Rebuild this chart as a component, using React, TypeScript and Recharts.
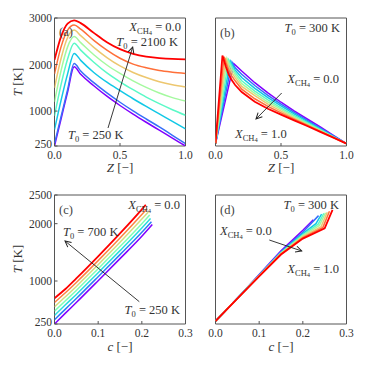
import React from 'react';
import { LineChart, Line, XAxis, YAxis, ReferenceArea } from 'recharts';

const FONT = '"Liberation Serif", "DejaVu Serif", serif';
const INK = '#333';
const SPINE = '#555';

// rainbow colormap, 8 and 7 samples
const colors8 = ['#8000ff', '#376ff9', '#12c8e6', '#5bf9c7', '#a4f99f', '#edc76f', '#ff6f39', '#ff0000'];
const colors7 = ['#8000ff', '#2b7ff6', '#2adddd', '#80ffb4', '#d4dd80', '#ff8042', '#ff0000'];

// (a) X_CH4 = 0.0, T0 = 250 ... 2100 K
const aT0 = [250, 300, 600, 900, 1200, 1500, 1800, 2100];
const aZ = [0, 0.05, 0.1, 0.15, 0.2, 0.3, 0.4, 0.5, 0.6, 0.7, 0.8, 0.9, 1.0];
const aT = [
  [250, 830, 1410, 1950, 1790, 1545, 1320, 1120, 935, 760, 590, 420, 250],
  [300, 880, 1460, 2020, 1860, 1610, 1390, 1190, 1005, 830, 660, 480, 300],
  [600, 1230, 1800, 2240, 2090, 1830, 1620, 1440, 1265, 1100, 940, 780, 620],
  [900, 1570, 2120, 2455, 2310, 2050, 1820, 1630, 1460, 1300, 1160, 1030, 910],
  [1200, 1870, 2380, 2600, 2470, 2210, 1990, 1810, 1650, 1510, 1390, 1290, 1215],
  [1500, 2130, 2580, 2740, 2620, 2370, 2150, 1970, 1830, 1720, 1630, 1565, 1520],
  [1800, 2380, 2740, 2850, 2760, 2520, 2310, 2135, 2010, 1930, 1870, 1835, 1810],
  [2100, 2600, 2880, 2950, 2890, 2680, 2480, 2330, 2230, 2170, 2140, 2120, 2110],
];

// (b) T0 = 300 K, X_CH4 = 0.0 ... 1.0
const bZ = [
  [0, 0.14, 0.2, 0.3, 0.4, 0.5, 0.6, 0.7, 0.8, 0.9, 1.0],
  [0, 0.126, 0.15, 0.2, 0.3, 0.4, 0.5, 0.6, 0.7, 0.8, 0.9, 1.0],
  [0, 0.113, 0.15, 0.2, 0.3, 0.4, 0.5, 0.6, 0.7, 0.8, 0.9, 1.0],
  [0, 0.1, 0.125, 0.15, 0.2, 0.3, 0.4, 0.5, 0.6, 0.7, 0.8, 0.9, 1.0],
  [0, 0.088, 0.1, 0.125, 0.15, 0.2, 0.3, 0.4, 0.5, 0.6, 0.7, 0.8, 0.9, 1.0],
  [0, 0.077, 0.1, 0.125, 0.15, 0.2, 0.3, 0.4, 0.5, 0.6, 0.7, 0.8, 0.9, 1.0],
  [0, 0.065, 0.08, 0.1, 0.125, 0.15, 0.2, 0.3, 0.4, 0.5, 0.6, 0.7, 0.8, 0.9, 1.0],
  [0, 0.053, 0.08, 0.1, 0.125, 0.15, 0.2, 0.3, 0.4, 0.5, 0.6, 0.7, 0.8, 0.9, 1.0],
];
const bT = [
  [300, 2020, 1860, 1610, 1390, 1190, 1005, 830, 660, 480, 300],
  [300, 2050, 1930, 1790, 1550, 1340, 1150, 970, 800, 635, 465, 300],
  [300, 2075, 1880, 1720, 1490, 1290, 1110, 940, 775, 615, 455, 300],
  [300, 2100, 1960, 1830, 1650, 1430, 1240, 1070, 905, 750, 600, 445, 300],
  [300, 2125, 2040, 1900, 1780, 1590, 1380, 1195, 1035, 875, 730, 585, 440, 300],
  [300, 2145, 1960, 1820, 1720, 1530, 1330, 1150, 1000, 850, 710, 575, 435, 300],
  [300, 2170, 2040, 1880, 1750, 1650, 1470, 1265, 1100, 960, 825, 695, 565, 432, 300],
  [300, 2195, 1950, 1790, 1660, 1560, 1410, 1200, 1050, 925, 800, 680, 555, 430, 300],
];

// (c) X_CH4 = 0.0, T0 = 250 ... 700 K
const cT0 = [250, 325, 400, 475, 550, 625, 700];
const cGrid = [0, 0.025, 0.05, 0.1, 0.15, 0.2];
const cEnd = [0.224, 0.222, 0.22, 0.218, 0.215, 0.212, 0.209];
const cT = [
  [250, 440, 625, 1005, 1390, 1780, 1985],
  [325, 510, 695, 1075, 1460, 1850, 2035],
  [400, 585, 765, 1145, 1530, 1925, 2090],
  [475, 655, 835, 1215, 1600, 2000, 2150],
  [550, 725, 905, 1285, 1675, 2080, 2205],
  [625, 795, 975, 1355, 1750, 2160, 2262],
  [700, 860, 1045, 1430, 1830, 2250, 2330],
];

// (d) T0 = 300 K, X_CH4 = 0.0 ... 1.0
const dC = [
  [0, 0.05, 0.1, 0.15, 0.2, 0.224],
  [0, 0.05, 0.1, 0.15, 0.2, 0.236],
  [0, 0.05, 0.1, 0.15, 0.2, 0.23, 0.243],
  [0, 0.05, 0.1, 0.15, 0.2, 0.235, 0.248],
  [0, 0.05, 0.1, 0.15, 0.2, 0.238, 0.252],
  [0, 0.05, 0.1, 0.15, 0.2, 0.242, 0.256],
  [0, 0.05, 0.1, 0.15, 0.2, 0.246, 0.261],
  [0, 0.05, 0.1, 0.15, 0.2, 0.25, 0.268],
];
const dT = [
  [300, 700, 1112, 1525, 1885, 2070],
  [300, 699, 1105, 1510, 1850, 2140],
  [300, 698, 1100, 1500, 1825, 2000, 2165],
  [300, 697, 1097, 1492, 1805, 1990, 2180],
  [300, 696, 1093, 1485, 1790, 1970, 2190],
  [300, 695, 1090, 1478, 1775, 1950, 2200],
  [300, 694, 1086, 1470, 1758, 1935, 2215],
  [300, 693, 1082, 1462, 1740, 1918, 2240],
];

const zTicks = [0, 0.5, 1.0];
const cTicks = [0, 0.1, 0.2, 0.3];
const tTicksTop = [250, 1000, 2000, 3000];
const tTicksBottom = [250, 1000, 2000, 2500];

type Pt = { x: number; y: number };
const pts = (xs: number[], ys: number[]): Pt[] => xs.map((x, i) => ({ x, y: ys[i] }));

const seriesA = aT.map((ys) => pts(aZ, ys));
const seriesB = bT.map((ys, i) => pts(bZ[i], ys));
const seriesC = cT.map((ys, i) => pts([...cGrid, cEnd[i]], ys));
const seriesD = dT.map((ys, i) => pts(dC[i], ys));

const TICK_FS = 11.5;

function XTick(props: any) {
  const { x, y, payload } = props;
  return (
    <text x={x} y={y} dy="0.71em" textAnchor="middle" fontSize={TICK_FS} fill={INK} fontFamily={FONT}>
      {Number(payload.value).toFixed(1)}
    </text>
  );
}

function YTick(props: any) {
  const { x, y, payload, lowest } = props;
  const shift = payload.value === lowest ? -2 : 0;
  return (
    <text x={x} y={y + shift} dy="0.35em" textAnchor="end" fontSize={TICK_FS} fill={INK} fontFamily={FONT}>
      {payload.value}
    </text>
  );
}

type PanelProps = {
  left: number;
  top: number;
  width: number;
  height: number;
  margin: { top: number; right: number; bottom: number; left: number };
  yWidth: number;
  xHeight: number;
  xDomain: [number, number];
  xTicks: number[];
  yDomain: [number, number];
  yTicks: number[];
  showY: boolean;
  series: Pt[][];
  colors: string[];
  curve: 'linear' | 'monotone';
};

function Panel(p: PanelProps) {
  return (
    <div style={{ position: 'absolute', left: p.left, top: p.top }}>
      <LineChart width={p.width} height={p.height} margin={p.margin}>
        <XAxis
          type="number"
          dataKey="x"
          domain={p.xDomain}
          ticks={p.xTicks}
          allowDataOverflow
          axisLine={false}
          tickSize={-3}
          tickMargin={8}
          height={p.xHeight}
          stroke={SPINE}
          tick={<XTick />}
        />
        <YAxis
          type="number"
          domain={p.yDomain}
          ticks={p.yTicks}
          allowDataOverflow
          axisLine={false}
          tickSize={-3}
          tickMargin={5.5}
          width={p.yWidth}
          stroke={SPINE}
          tick={p.showY ? <YTick lowest={p.yDomain[0]} /> : false}
        />
        {p.series.map((s, i) => (
          <Line
            key={i}
            data={s}
            dataKey="y"
            type={p.curve}
            stroke={p.colors[i]}
            strokeWidth={i === p.series.length - 1 ? 1.8 : 1.5}
            dot={false}
            activeDot={false}
            isAnimationActive={false}
          />
        ))}
        <ReferenceArea
          x1={p.xDomain[0]}
          x2={p.xDomain[1]}
          y1={p.yDomain[0]}
          y2={p.yDomain[1]}
          fill="none"
          stroke={SPINE}
          strokeWidth={1}
          ifOverflow="visible"
        />
      </LineChart>
    </div>
  );
}

const NB = '\u00a0';

function Xch4({ x, y, v, anchor }: { x: number; y: number; v: string; anchor: 'start' | 'end' }) {
  return (
    <text x={x} y={y} textAnchor={anchor} fontSize={12.5} fill={INK} fontFamily={FONT}>
      <tspan fontStyle="italic">X</tspan>
      <tspan fontSize={8.5} dy={2.5}>CH</tspan>
      <tspan fontSize={6.5} dy={1.5}>4</tspan>
      <tspan dy={-4}>{`${NB}=${NB}${v}`}</tspan>
    </text>
  );
}

function T0({ x, y, v, anchor }: { x: number; y: number; v: string; anchor: 'start' | 'end' }) {
  return (
    <text x={x} y={y} textAnchor={anchor} fontSize={12.5} fill={INK} fontFamily={FONT}>
      <tspan fontStyle="italic">T</tspan>
      <tspan fontSize={8.5} dy={2.5}>0</tspan>
      <tspan dy={-2.5}>{`${NB}=${NB}${v}${NB}K`}</tspan>
    </text>
  );
}

function Tag({ x, y, s }: { x: number; y: number; s: string }) {
  return (
    <text x={x} y={y} fontSize={12.5} fill="#444" fontFamily={FONT}>
      {s}
    </text>
  );
}

function Arrow({ x1, y1, x2, y2 }: { x1: number; y1: number; x2: number; y2: number }) {
  return <line x1={x1} y1={y1} x2={x2} y2={y2} stroke="#222" strokeWidth={0.9} markerEnd="url(#head)" />;
}

function AxisTitle({ x, y, v, unit, rotate }: { x: number; y: number; v: string; unit: string; rotate?: boolean }) {
  return (
    <text
      x={x}
      y={y}
      textAnchor="middle"
      fontSize={13}
      fill={INK}
      fontFamily={FONT}
      transform={rotate ? `rotate(-90 ${x} ${y})` : undefined}
    >
      <tspan fontStyle="italic">{v}</tspan>
      <tspan>{`${NB}[${unit}]`}</tspan>
    </text>
  );
}

export default function App() {
  return (
    <div style={{ position: 'absolute', left: 0, top: 0, width: 368, height: 368, background: '#fff' }}>
      <Panel
        left={0} top={0} width={200} height={180}
        margin={{ top: 18, right: 14.5, bottom: 0, left: 0 }}
        yWidth={54.5} xHeight={34}
        xDomain={[0, 1]} xTicks={zTicks} yDomain={[250, 3000]} yTicks={tTicksTop}
        showY series={seriesA} colors={colors8} curve="monotone"
      />
      <Panel
        left={190} top={0} width={178} height={180}
        margin={{ top: 18, right: 21.5, bottom: 0, left: 0 }}
        yWidth={25.5} xHeight={34}
        xDomain={[0, 1]} xTicks={zTicks} yDomain={[250, 3000]} yTicks={tTicksTop}
        showY={false} series={seriesB} colors={colors8} curve="linear"
      />
      <Panel
        left={0} top={180} width={200} height={188}
        margin={{ top: 15, right: 14.5, bottom: 0, left: 0 }}
        yWidth={54.5} xHeight={44}
        xDomain={[0, 0.3]} xTicks={cTicks} yDomain={[250, 2500]} yTicks={tTicksBottom}
        showY series={seriesC} colors={colors7} curve="monotone"
      />
      <Panel
        left={190} top={180} width={178} height={188}
        margin={{ top: 15, right: 21.5, bottom: 0, left: 0 }}
        yWidth={25.5} xHeight={44}
        xDomain={[0, 0.3]} xTicks={cTicks} yDomain={[250, 2500]} yTicks={tTicksBottom}
        showY={false} series={seriesD} colors={colors8} curve="linear"
      />
      <svg width={368} height={368} style={{ position: 'absolute', left: 0, top: 0, pointerEvents: 'none' }}>
        <defs>
          <marker id="head" markerWidth={8} markerHeight={8} refX={7} refY={4} orient="auto" markerUnits="userSpaceOnUse">
            <path d="M1,1 L7,4 L1,7" fill="none" stroke="#222" strokeWidth={1} />
          </marker>
        </defs>

        <AxisTitle x={22} y={82} v="T" unit="K" rotate />
        <AxisTitle x={22} y={259} v="T" unit="K" rotate />
        <AxisTitle x={120} y={172} v="Z" unit={'\u2212'} />
        <AxisTitle x={281} y={172} v="Z" unit={'\u2212'} />
        <AxisTitle x={120} y={351} v="c" unit={'\u2212'} />
        <AxisTitle x={281} y={351} v="c" unit={'\u2212'} />

        {/* (a) */}
        <Tag x={59} y={36} s="(a)" />
        <Xch4 x={181} y={31} v="0.0" anchor="end" />
        <T0 x={178} y={46} v="2100" anchor="end" />
        <T0 x={68} y={139} v="250" anchor="start" />
        <Arrow x1={108} y1={128} x2={132.7} y2={47} />

        {/* (b) */}
        <Tag x={220} y={37} s="(b)" />
        <T0 x={340} y={32} v="300" anchor="end" />
        <Xch4 x={339} y={83} v="0.0" anchor="end" />
        <Arrow x1={281.7} y1={93} x2={256} y2={119} />
        <Xch4 x={235} y={138} v="1.0" anchor="start" />

        {/* (c) */}
        <Tag x={59} y={214} s="(c)" />
        <Xch4 x={180} y={209} v="0.0" anchor="end" />
        <T0 x={63} y={236} v="700" anchor="start" />
        <Arrow x1={139.3} y1={301.7} x2={65} y2={241} />
        <T0 x={180} y={314} v="250" anchor="end" />

        {/* (d) */}
        <Tag x={220} y={214} s="(d)" />
        <T0 x={339} y={209} v="300" anchor="end" />
        <Xch4 x={220} y={235} v="0.0" anchor="start" />
        <Arrow x1={269.3} y1={240} x2={301.7} y2={251} />
        <Xch4 x={339} y={273} v="1.0" anchor="end" />
      </svg>
    </div>
  );
}
